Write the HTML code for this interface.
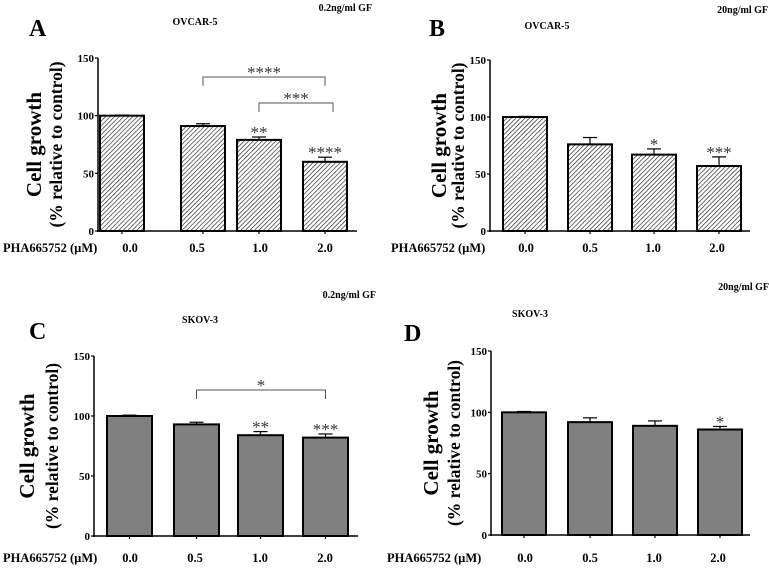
<!DOCTYPE html>
<html><head><meta charset="utf-8"><style>
html,body{margin:0;padding:0;background:#fff;width:769px;height:569px;overflow:hidden}
svg{display:block}
text{font-family:"Liberation Serif",serif;font-weight:bold;fill:#000}
</style></head><body>
<svg id="fig" width="769" height="569" viewBox="0 0 769 569" xmlns="http://www.w3.org/2000/svg">
<defs>
<pattern id="hatch" patternUnits="userSpaceOnUse" width="3.2" height="3.2" patternTransform="rotate(45)">
<rect width="3.2" height="3.2" fill="#fff"/><line x1="0" y1="0" x2="0" y2="3.2" stroke="#222" stroke-width="1.3"/>
</pattern>
</defs>
</svg>
<script>
const categories = ["0.0","0.5","1.0","2.0"];
const yTicks = [0,50,100,150];
const valuesA = [100,91,79,60];
const errorsA = [0.5,2,2.5,4];
const starsA = ["","","**","****"];
const valuesB = [100,76,67,57];
const errorsB = [0.5,6,5,8];
const starsB = ["","","*","***"];
const valuesC = [100,93,84,82];
const errorsC = [0.7,1.8,3,3];
const starsC = ["","","**","***"];
const valuesD = [100,92,89,86];
const errorsD = [0.7,3.5,4,2.5];
const starsD = ["","","","*"];
const bracketsA = [[1,3,"****"],[2,3,"***"]];
const bracketsC = [[1,3,"*"]];

const svg = document.getElementById('fig');
const NS = "http://www.w3.org/2000/svg";
function mk(tag, attrs, parent){
  const e = document.createElementNS(NS, tag);
  for (const k in attrs) e.setAttribute(k, attrs[k]);
  (parent||svg).appendChild(e);
  return e;
}
function txt(x,y,s,size,anchor,parent){
  const t = mk('text',{x:x,y:y,'font-size':size,'text-anchor':anchor||'middle'},parent);
  t.textContent = s; return t;
}

const panels = [
 {id:'a',letter:'A',lx:29,ly:36,title:'OVCAR-5',tx:195,ty:25,gf:'0.2ng/ml GF',gx:372,gy:11,
  ax:98,y0:231,y150:58,xEnd:357,barL:[100,181,237,303],bw:44,fill:'url(#hatch)',
  vals:valuesA,errs:errorsA,stars:starsA,brackets:bracketsA,bY:[77,103],t1x:36,t2x:58,labY:252,pha:3,tickX:[130,197,260,325]},
 {id:'b',letter:'B',lx:429,ly:36,title:'OVCAR-5',tx:547,ty:29,gf:'20ng/ml GF',gx:768,gy:13,
  ax:490,y0:231,y150:60,xEnd:750,barL:[503,568,632,697],bw:44,fill:'url(#hatch)',
  vals:valuesB,errs:errorsB,stars:starsB,brackets:[],t1x:441,t2x:460,labY:252,pha:391,tickX:[526,590,653,717]},
 {id:'c',letter:'C',lx:29,ly:339,title:'SKOV-3',tx:200,ty:323,gf:'0.2ng/ml GF',gx:376,gy:298,
  ax:94,y0:536,y150:356,xEnd:358,barL:[107,174,238,303],bw:45,fill:'#808080',
  vals:valuesC,errs:errorsC,stars:starsC,brackets:bracketsC,bY:[390],t1x:29,t2x:54,labY:562,pha:3,tickX:[130,195,260,325]},
 {id:'d',letter:'D',lx:404,ly:341,title:'SKOV-3',tx:530,ty:317,gf:'20ng/ml GF',gx:769,gy:290,
  ax:491,y0:535,y150:351,xEnd:750,barL:[502,568,633,698],bw:44,fill:'#808080',
  vals:valuesD,errs:errorsD,stars:starsD,brackets:[],t1x:433,t2x:456,labY:562,pha:387,tickX:[525,590,654,718]}
];

panels.forEach(p=>{
  const g = mk('g',{});
  
  
  const yS = v => p.y0 - (v/150)*(p.y0-p.y150);
  txt(p.lx,p.ly,p.letter,24,'start',g);
  txt(p.tx,p.ty,p.title,10,'middle',g);
  txt(p.gx,p.gy,p.gf,10,'end',g);
  const mid = (p.y0+p.y150)/2;
  const t1 = txt(p.t1x,mid,'Cell growth',21,'middle',g);
  t1.setAttribute('transform','rotate(-90 '+p.t1x+' '+mid+')');
  t1.setAttribute('dominant-baseline','middle');
  
  const t2 = txt(p.t2x,mid,'(% relative to control)',17.5,'middle',g);
  t2.setAttribute('transform','rotate(-90 '+p.t2x+' '+mid+')');
  t2.setAttribute('dominant-baseline','middle');
  
  p.vals.forEach((v,i)=>{
    const x = p.barL[i], y = yS(v), cx = x+p.bw/2;
    const ey = yS(v+p.errs[i]);
    const e1 = mk('line',{x1:cx,x2:cx,y1:y,y2:ey,stroke:'#000','stroke-width':1.2},g);
    
    mk('line',{x1:cx-7,x2:cx+7,y1:ey,y2:ey,stroke:'#000','stroke-width':1.2},g);
    const r = mk('rect',{x:x,y:y,width:p.bw,height:p.y0-y,fill:p.fill,stroke:'#000','stroke-width':2},g);
    
    
    if (p.stars[i]) {
      const s = txt(cx,ey+1,p.stars[i],17,'middle',g);
      s.setAttribute('style','font-weight:normal;fill:#333');
      
    }
  });
  mk('line',{x1:p.ax,x2:p.ax,y1:p.y150,y2:p.y0+1,stroke:'#000','stroke-width':1.5},g);
  mk('line',{x1:p.ax-1,x2:p.xEnd,y1:p.y0,y2:p.y0,stroke:'#000','stroke-width':1.5},g);
  yTicks.forEach(t=>{
    const y = yS(t);
    mk('line',{x1:p.ax-3,x2:p.ax,y1:y,y2:y,stroke:'#000','stroke-width':1.2},g);
    const tl = txt(p.ax-4,y+4,String(t),11,'end',g);
    
  });
  const ph = txt(p.pha,p.labY,'PHA665752 (µM)',12.5,'start',g);
  
  categories.forEach((c,i)=>{
    const cx = p.barL[i]+p.bw/2;
    mk('line',{x1:cx,x2:cx,y1:p.y0,y2:p.y0+3,stroke:'#000','stroke-width':1.2},g);
    const l = txt(p.tickX[i],p.labY,c,12.5,'middle',g);
    
  });
  p.brackets.forEach((b,k)=>{
    const xa = p.barL[b[0]]+p.bw/2, xb = p.barL[b[1]]+p.bw/2 + (k===1?8:0);
    const by = p.bY[k];
    const br = mk('path',{d:'M'+xa+' '+(by+9)+' V'+by+' H'+xb+' V'+(by+9),fill:'none',stroke:'#555','stroke-width':1},g);
    
    const s = txt((xa+xb)/2,by+1,b[2],17,'middle',g);
    s.setAttribute('style','font-weight:normal;fill:#333');
    
  });
});
</script>
</body></html>
